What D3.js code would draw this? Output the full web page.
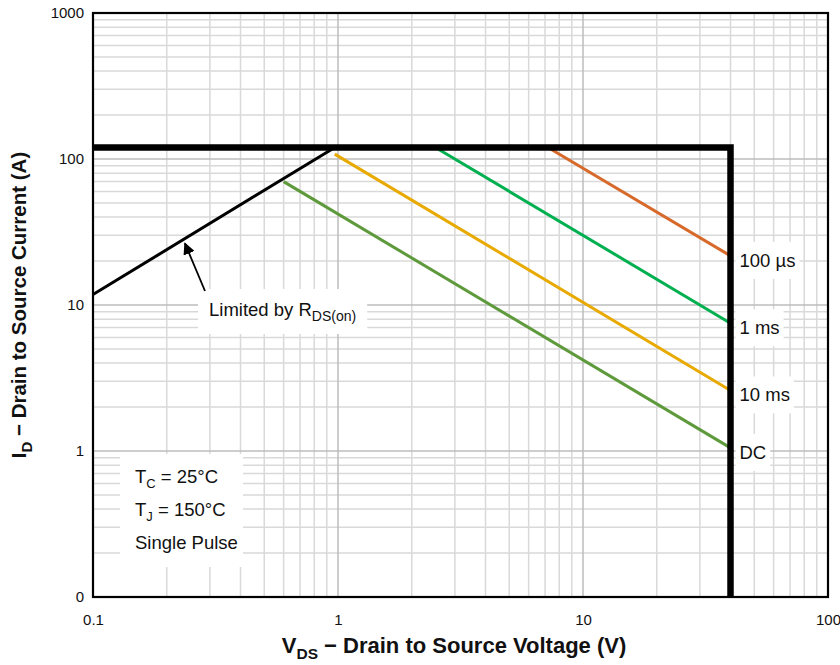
<!DOCTYPE html>
<html><head><meta charset="utf-8">
<script src="https://cdn.jsdelivr.net/npm/d3@7"></script>
<style>body{margin:0;background:#fff}svg{display:block;font-family:"Liberation Sans",Arial,Helvetica,sans-serif}</style>
</head><body><svg id="c" width="840" height="665"></svg>
<script>
// ---- data ----
const xTicks = [0.1, 1, 10, 100];
const xTickLabels = ["0.1", "1", "10", "100"];
const yTicks = [0.1, 1, 10, 100, 1000];
const yTickLabels = ["0", "1", "10", "100", "1000"];
const limitCurrent = 120;      // A, package limit
const limitVoltage = 40;       // V, BVDSS limit
const rdsLine = [[0.1, 11.8], [0.97, 120]];
const seriesNames = ["100 µs", "1 ms", "10 ms", "DC"];
const seriesColors = ["#d7692b", "#00b050", "#e8aa00", "#5e9a3b"];
const seriesPoints = [
  [[7.2, 120], [40, 21.7]],
  [[2.5, 120], [40, 7.5]],
  [[0.97, 108], [40, 2.6]],
  [[0.6, 70], [40, 1.05]]
];
const notes = ["T|C| = 25°C", "T|J| = 150°C", "Single Pulse"];

// ---- layout ----
const svg = d3.select("#c");
const L = 93, R = 828, T = 13, B = 597;
const x = d3.scaleLog().domain([0.1, 100]).range([L, R]);
const y = d3.scaleLog().domain([0.1, 1000]).range([B, T]);
const FS = 18.5;

// grid
const minor = [], major = [];
for (let d = -1; d < 3; d++) for (let k = 1; k < 10; k++) { const v = k * Math.pow(10, d); if (k === 1) { if (d > -1) major.push(v); } else minor.push(v); }
const g = svg.append("g");
g.selectAll(".vx").data(minor).join("line").attr("x1", d => x(d)).attr("x2", d => x(d)).attr("y1", T).attr("y2", B).attr("stroke", "#d9d9d9").attr("stroke-width", 1.5);
g.selectAll(".hy").data(minor).join("line").attr("y1", d => y(d)).attr("y2", d => y(d)).attr("x1", L).attr("x2", R).attr("stroke", "#d9d9d9").attr("stroke-width", 1.5);
g.selectAll(".vX").data(major).join("line").attr("x1", d => x(d)).attr("x2", d => x(d)).attr("y1", T).attr("y2", B).attr("stroke", "#bdbdbd").attr("stroke-width", 1.5);
g.selectAll(".hY").data(major).join("line").attr("y1", d => y(d)).attr("y2", d => y(d)).attr("x1", L).attr("x2", R).attr("stroke", "#bdbdbd").attr("stroke-width", 1.5);

const line = d3.line().x(d => x(d[0])).y(d => y(d[1]));

// series
seriesPoints.forEach((pts, i) => {
  svg.append("path").attr("d", line(pts)).attr("fill", "none").attr("stroke", seriesColors[i]).attr("stroke-width", 3);
});
// Rds line
svg.append("path").attr("d", line(rdsLine)).attr("fill", "none").attr("stroke", "#000").attr("stroke-width", 3);

// limit box
svg.append("path").attr("d", line([[0.1, limitCurrent], [limitVoltage, limitCurrent], [limitVoltage, 0.1]]))
  .attr("fill", "none").attr("stroke", "#000").attr("stroke-width", 6.5).attr("stroke-linejoin", "miter");

// frame
svg.append("rect").attr("x", L).attr("y", T).attr("width", R - L).attr("height", B - T).attr("fill", "none").attr("stroke", "#000").attr("stroke-width", 2.2);

// helper: label with white background
function boxedText(tx, ty, build, padX, padY) {
  const gg = svg.append("g");
  const bg = gg.append("rect").attr("fill", "#fff");
  const t = gg.append("text").attr("x", tx).attr("y", ty).attr("font-size", FS).attr("fill", "#111");
  build(t);
  const bb = t.node().getBBox();
  bg.attr("x", bb.x - padX).attr("y", bb.y - padY).attr("width", bb.width + 2 * padX).attr("height", bb.height + 2 * padY);
  return gg;
}

// series labels
seriesPoints.forEach((pts, i) => {
  const end = pts[pts.length - 1];
  boxedText(x(end[0]) + 9, y(end[1]) + 11, t => t.text(seriesNames[i]), 4, 8);
});

// Limited by RDS(on)
svg.append("defs").append("marker").attr("id", "ah").attr("viewBox", "0 0 10 10").attr("refX", 9).attr("refY", 5)
  .attr("markerWidth", 12).attr("markerHeight", 12).attr("markerUnits", "userSpaceOnUse").attr("orient", "auto")
  .append("path").attr("d", "M0,0 L10,5 L0,10 z").attr("fill", "#000");
boxedText(209, 316, t => {
  t.append("tspan").text("Limited by R");
  t.append("tspan").attr("font-size", 14).attr("dy", 5).text("DS(on)");
}, 11, 10);
const ap = [0.235, 0.235 * 118];
svg.append("line").attr("x1", 205).attr("y1", 291).attr("x2", x(ap[0]) + 1).attr("y2", y(ap[1]) + 3)
  .attr("stroke", "#000").attr("stroke-width", 1.8).attr("marker-end", "url(#ah)");

// conditions box
svg.append("rect").attr("x", 120).attr("y", 454).attr("width", 123).attr("height", 113).attr("fill", "#fff");
notes.forEach((n, i) => {
  const t = svg.append("text").attr("x", 135).attr("y", 483 + i * 33).attr("font-size", FS).attr("fill", "#111");
  const parts = n.split("|");
  t.append("tspan").text(parts[0]);
  if (parts.length > 1) {
    t.append("tspan").attr("font-size", 13).attr("dy", 5).text(parts[1]);
    t.append("tspan").attr("dy", -5).text(parts[2]);
  }
});

// axes ticks
const xa = svg.append("g").attr("transform", `translate(0,${B})`)
  .call(d3.axisBottom(x).tickValues(xTicks).tickFormat((d, i) => xTickLabels[i]).tickSize(0).tickPadding(17));
const ya = svg.append("g").attr("transform", `translate(${L},0)`)
  .call(d3.axisLeft(y).tickValues(yTicks).tickFormat((d, i) => yTickLabels[i]).tickSize(0).tickPadding(9));
[xa, ya].forEach(a => { a.select(".domain").remove(); a.selectAll("text").attr("font-size", 15).attr("fill", "#111").attr("font-family", "Liberation Sans, Arial, sans-serif"); });

// axis titles
const xt = svg.append("text").attr("x", 454).attr("y", 653).attr("text-anchor", "middle").attr("font-size", 22).attr("font-weight", "bold").attr("fill", "#111");
xt.append("tspan").text("V");
xt.append("tspan").attr("font-size", 15.5).attr("dy", 6).text("DS");
xt.append("tspan").attr("dy", -6).text(" \u2212 Drain to Source Voltage (V)");
const yt = svg.append("text").attr("transform", `translate(26,${(T + B) / 2}) rotate(-90)`).attr("text-anchor", "middle").attr("font-size", 20.5).attr("font-weight", "bold").attr("fill", "#111");
yt.append("tspan").text("I");
yt.append("tspan").attr("font-size", 15).attr("dy", 6).text("D");
yt.append("tspan").attr("dy", -6).text(" \u2212 Drain to Source Current (A)");
</script></body></html>
